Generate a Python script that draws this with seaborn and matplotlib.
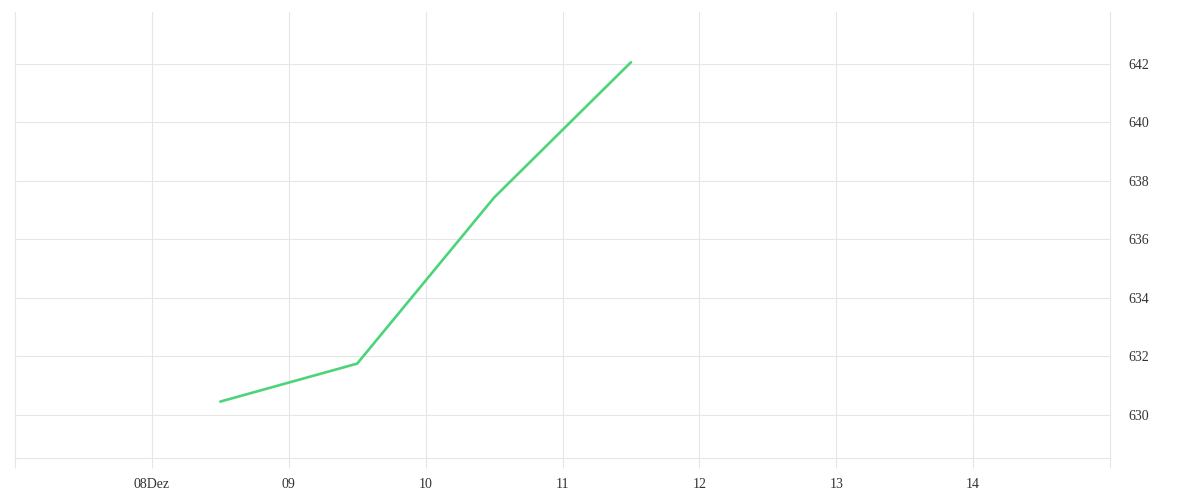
import pandas as pd
import numpy as np
import matplotlib.pyplot as plt
import seaborn as sns

# values
dates = ["2023-12-08 12:00", "2023-12-09 12:00", "2023-12-10 12:00", "2023-12-11 12:00"]
values = [630.45, 631.75, 637.43, 642.06]
tick_days = ["2023-12-08", "2023-12-09", "2023-12-10", "2023-12-11",
             "2023-12-12", "2023-12-13", "2023-12-14"]
tick_labels = ["08Dez", "09", "10", "11", "12", "13", "14"]
x_range = ["2023-12-07", "2023-12-15"]
y_ticks = [630, 632, 634, 636, 638, 640, 642]

df = pd.DataFrame({"date": pd.to_datetime(dates), "value": values})

sns.set_style("white")
plt.rcParams['font.family'] = ['Liberation Serif', 'DejaVu Serif']

grid_col = "#e6e6e6"

fig = plt.figure(figsize=(12, 5), dpi=100)
ax = fig.add_axes([15 / 1200, 1 - 458 / 500, (1110 - 15) / 1200, (458 - 12) / 500])

sns.lineplot(data=df, x="date", y="value", ax=ax, color="#4cd47b", linewidth=1.9)

ax.set_xlim(pd.Timestamp(x_range[0]), pd.Timestamp(x_range[1]))
ax.set_ylim(628.52, 643.78)

ax.set_xticks(pd.to_datetime(tick_days))
ax.set_xticklabels(tick_labels)
# unlabelled ticks at both ends, so the frame lines run below the axis too
ax.set_xticks(pd.to_datetime(x_range), minor=True)
ax.set_yticks(y_ticks)
ax.set_yticklabels([str(v) for v in y_ticks])

ax.yaxis.tick_right()
ax.grid(True, which="major", color=grid_col, linewidth=0.8)
ax.set_axisbelow(True)

ax.tick_params(axis="x", which="both", bottom=True, direction="out", length=7.5,
               width=0.8, color=grid_col, pad=7, labelsize=10, labelcolor="#333333")
ax.tick_params(axis="y", which="both", length=0, pad=13, labelsize=10,
               labelcolor="#333333")

ax.spines["top"].set_visible(False)
for side in ["left", "right", "bottom"]:
    ax.spines[side].set_color(grid_col)
    ax.spines[side].set_linewidth(0.8)

ax.set_xlabel("")
ax.set_ylabel("")

plt.savefig("out.png", dpi=100)
